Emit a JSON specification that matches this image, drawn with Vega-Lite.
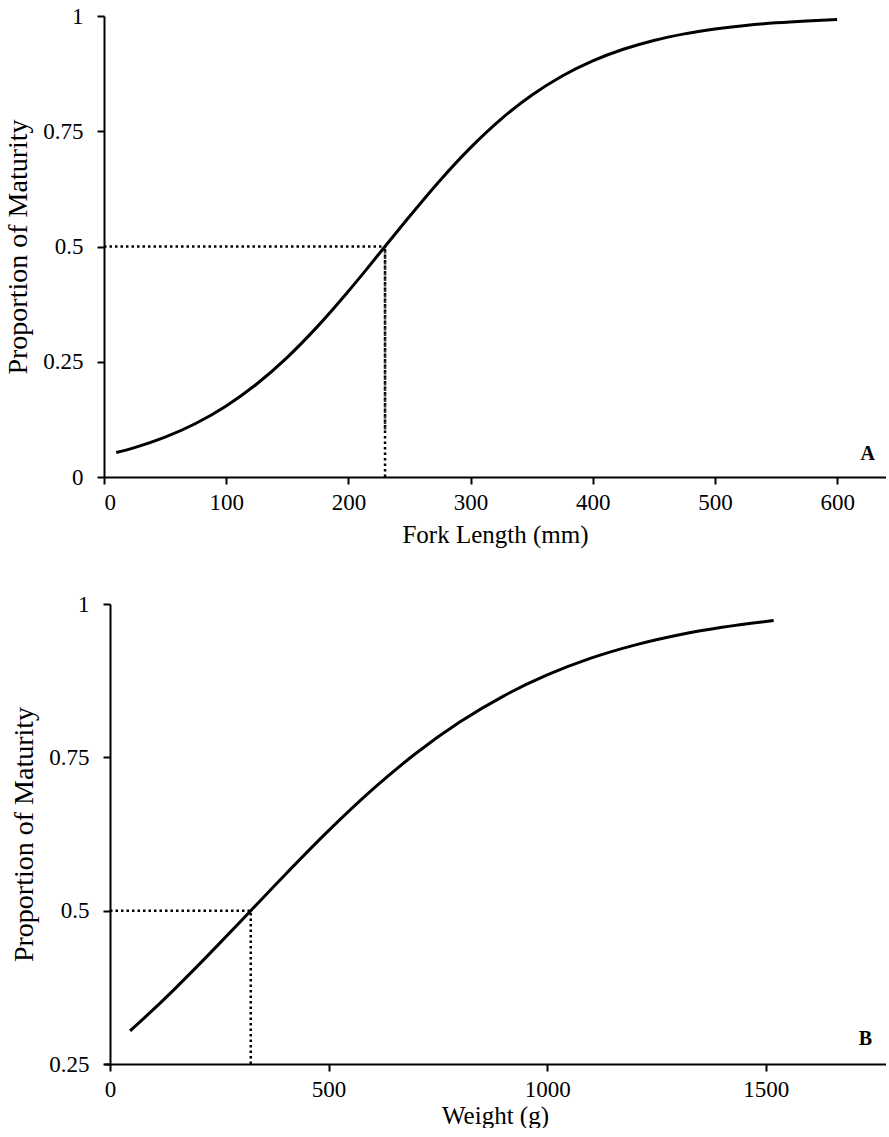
{
  "$schema": "https://vega.github.io/schema/vega-lite/v6.json",
  "padding": {"left": 4, "top": 5, "right": 0, "bottom": 0},
  "background": "white",
  "spacing": 46,
  "config": {
    "font": "Times New Roman, Liberation Serif, serif",
    "view": {"stroke": null},
    "axis": {
      "domainColor": "black", "domainWidth": 2, "tickColor": "black", "tickWidth": 2, "tickSize": 7,
      "labelFont": "Times New Roman, Liberation Serif, serif", "labelFontSize": 23, "labelColor": "black",
      "titleFont": "Times New Roman, Liberation Serif, serif", "titleFontWeight": "normal", "titleColor": "black",
      "grid": false
    },
    "axisX": {"labelPadding": 7, "titlePadding": 8, "titleFontSize": 25},
    "axisY": {"labelPadding": 14, "titlePadding": 10, "titleFontSize": 28}
  },
  "datasets": {
    "curveA": [
      {"len": 10, "p": 0.0531}, {"len": 25, "p": 0.0638}, {"len": 50, "p": 0.0864}, {"len": 75, "p": 0.1160},
      {"len": 100, "p": 0.1541}, {"len": 125, "p": 0.2017}, {"len": 150, "p": 0.2596}, {"len": 175, "p": 0.3273},
      {"len": 200, "p": 0.4030}, {"len": 215, "p": 0.4510}, {"len": 230, "p": 0.5}, {"len": 250, "p": 0.5651},
      {"len": 275, "p": 0.6433}, {"len": 300, "p": 0.7145}, {"len": 325, "p": 0.7764}, {"len": 350, "p": 0.8281},
      {"len": 375, "p": 0.8699}, {"len": 400, "p": 0.9027}, {"len": 425, "p": 0.9279}, {"len": 450, "p": 0.9470},
      {"len": 475, "p": 0.9612}, {"len": 500, "p": 0.9717}, {"len": 525, "p": 0.9795}, {"len": 550, "p": 0.9851},
      {"len": 575, "p": 0.9892}, {"len": 600, "p": 0.9922}
    ],
    "curveB": [
      {"w": 46, "p": 0.3041}, {"w": 100, "p": 0.3394}, {"w": 150, "p": 0.3738}, {"w": 200, "p": 0.4095},
      {"w": 250, "p": 0.4462}, {"w": 322, "p": 0.5}, {"w": 400, "p": 0.5582}, {"w": 500, "p": 0.6304},
      {"w": 600, "p": 0.6972}, {"w": 700, "p": 0.7566}, {"w": 800, "p": 0.8075}, {"w": 900, "p": 0.8499},
      {"w": 1000, "p": 0.8843}, {"w": 1100, "p": 0.9117}, {"w": 1200, "p": 0.9330}, {"w": 1300, "p": 0.9495},
      {"w": 1400, "p": 0.9621}, {"w": 1518, "p": 0.9731}
    ]
  },
  "vconcat": [
    {
      "width": 782, "height": 461,
      "layer": [
        {
          "data": {"values": [{"a": 0, "b": 230, "p": 0.5}]},
          "mark": {"type": "rule", "color": "black", "strokeWidth": 2.5, "strokeDash": [2.5, 3]},
          "encoding": {"x": {"field": "a", "type": "quantitative"}, "x2": {"field": "b"}, "y": {"field": "p", "type": "quantitative"}}
        },
        {
          "data": {"values": [{"len": 230, "p1": 0, "p2": 0.5}]},
          "mark": {"type": "rule", "color": "black", "strokeWidth": 2.5, "strokeDash": [2.5, 3]},
          "encoding": {"x": {"field": "len", "type": "quantitative"}, "y": {"field": "p1", "type": "quantitative"}, "y2": {"field": "p2"}}
        },
        {
          "data": {"values": [{"len": 230, "p1": 0.097, "p2": 0.5}]},
          "mark": {"type": "rule", "color": "#333333", "strokeWidth": 2.5, "strokeDash": [2.5, 3], "strokeDashOffset": 2.7},
          "encoding": {"x": {"field": "len", "type": "quantitative"}, "y": {"field": "p1", "type": "quantitative"}, "y2": {"field": "p2"}}
        },
        {
          "data": {"name": "curveA"},
          "mark": {"type": "line", "color": "black", "strokeWidth": 3, "interpolate": "monotone"},
          "encoding": {
            "x": {"field": "len", "type": "quantitative", "scale": {"domain": [0, 640], "nice": false},
                  "axis": {"values": [0, 100, 200, 300, 400, 500, 600], "title": "Fork Length (mm)"}},
            "y": {"field": "p", "type": "quantitative", "scale": {"domain": [0, 1], "nice": false},
                  "axis": {"values": [0, 0.25, 0.5, 0.75, 1], "labelExpr": "'' + datum.value", "title": "Proportion of Maturity"}}
          }
        },
        {
          "data": {"values": [{"len": 625, "p": 0.049, "label": "A"}]},
          "mark": {"type": "text", "font": "Times New Roman, Liberation Serif, serif", "fontSize": 20, "fontWeight": "bold", "color": "black", "align": "center", "baseline": "middle"},
          "encoding": {"x": {"field": "len", "type": "quantitative"}, "y": {"field": "p", "type": "quantitative"}, "text": {"field": "label"}}
        }
      ]
    },
    {
      "width": 782, "height": 460,
      "layer": [
        {
          "data": {"values": [{"a": 0, "b": 322, "p": 0.5}]},
          "mark": {"type": "rule", "color": "black", "strokeWidth": 2.5, "strokeDash": [2.5, 3]},
          "encoding": {"x": {"field": "a", "type": "quantitative"}, "x2": {"field": "b"}, "y": {"field": "p", "type": "quantitative"}}
        },
        {
          "data": {"values": [{"w": 322, "p1": 0.25, "p2": 0.5}]},
          "mark": {"type": "rule", "color": "black", "strokeWidth": 2.5, "strokeDash": [2.5, 3]},
          "encoding": {"x": {"field": "w", "type": "quantitative"}, "y": {"field": "p1", "type": "quantitative"}, "y2": {"field": "p2"}}
        },
        {
          "data": {"name": "curveB"},
          "mark": {"type": "line", "color": "black", "strokeWidth": 3, "interpolate": "monotone"},
          "encoding": {
            "x": {"field": "w", "type": "quantitative", "scale": {"domain": [-13.7, 1775], "nice": false, "zero": false},
                  "axis": {"values": [0, 500, 1000, 1500], "format": "d", "title": "Weight (g)", "titlePadding": 2}},
            "y": {"field": "p", "type": "quantitative", "scale": {"domain": [0.25, 1], "nice": false, "zero": false},
                  "axis": {"values": [0.25, 0.5, 0.75, 1], "labelExpr": "'' + datum.value", "title": "Proportion of Maturity", "offset": -6}}
          }
        },
        {
          "data": {"values": [{"w": 1728, "p": 0.291, "label": "B"}]},
          "mark": {"type": "text", "font": "Times New Roman, Liberation Serif, serif", "fontSize": 20, "fontWeight": "bold", "color": "black", "align": "center", "baseline": "middle"},
          "encoding": {"x": {"field": "w", "type": "quantitative"}, "y": {"field": "p", "type": "quantitative"}, "text": {"field": "label"}}
        }
      ]
    }
  ]
}
